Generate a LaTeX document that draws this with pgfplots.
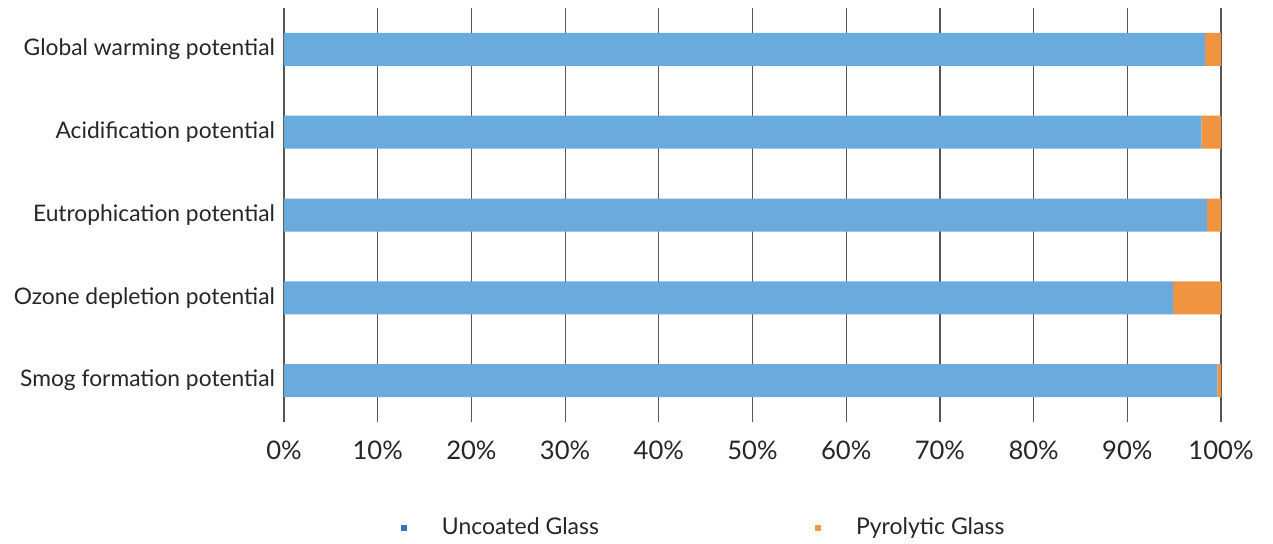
\documentclass[border=0pt]{standalone}
\usepackage{pgfplots}
\pgfplotsset{compat=1.18}
\usepackage{fontspec}
\setmainfont{Lato}
\definecolor{barblue}{HTML}{6AABDD}
\definecolor{barorange}{HTML}{F09442}
\definecolor{legblue}{HTML}{3373C0}
\definecolor{legorange}{HTML}{F2954A}
\definecolor{gridc}{HTML}{555555}
\definecolor{txt}{HTML}{262626}
\begin{document}
\begin{tikzpicture}
\useasboundingbox (-142pt,-60.5pt) rectangle (494.5pt,211pt);
\begin{axis}[
  at={(0,0)}, anchor=south west,
  scale only axis,
  width=468.5pt, height=207pt,
  xbar stacked,
  bar width=16.5pt,
  xmin=0, xmax=100,
  ymin=-0.5, ymax=4.5,
  xtick={0,10,...,100},
  xticklabels={0\%,10\%,20\%,30\%,40\%,50\%,60\%,70\%,80\%,90\%,100\%},
  ytick={0,1,2,3,4},
  yticklabels={Smog formation potential,Ozone depletion potential,Eutrophication potential,Acidification potential,Global warming potential},
  xmajorgrids,
  major grid style={draw=gridc, line width=0.6pt},
  major tick length=0pt,
  axis line style={draw=none},
  /pgf/number format/assume math mode=true,
  xticklabel style={font=\fontsize{12.8}{15}\selectfont, text=txt, yshift=-6pt},
  yticklabel style={font=\fontsize{11.4}{13}\selectfont, text=txt, xshift=-1pt},
  legend columns=2,
  legend style={draw=none, fill=none, at={(rel axis cs:0.118,-0.256)}, anchor=west,
    font=\fontsize{11.5}{13}\selectfont, text=txt,
    /tikz/every even column/.append style={column sep=106pt}},
]
\addplot[fill=barblue, draw=none,
  legend image code/.code={\fill[legblue] (0pt,-1.5pt) rectangle (3pt,1.5pt); \path[draw=none,fill=none] (0,0) rectangle (18.5pt,0.1pt);}]
  coordinates {(99.6,0) (94.9,1) (98.5,2) (97.9,3) (98.3,4)};
\addlegendentry{Uncoated Glass}
\addplot[fill=barorange, draw=none,
  legend image code/.code={\fill[legorange] (0pt,-1.5pt) rectangle (3pt,1.5pt); \path[draw=none,fill=none] (0,0) rectangle (18.5pt,0.1pt);}]
  coordinates {(0.4,0) (5.1,1) (1.5,2) (2.1,3) (1.7,4)};
\addlegendentry{Pyrolytic Glass}
\end{axis}
\end{tikzpicture}
\end{document}
